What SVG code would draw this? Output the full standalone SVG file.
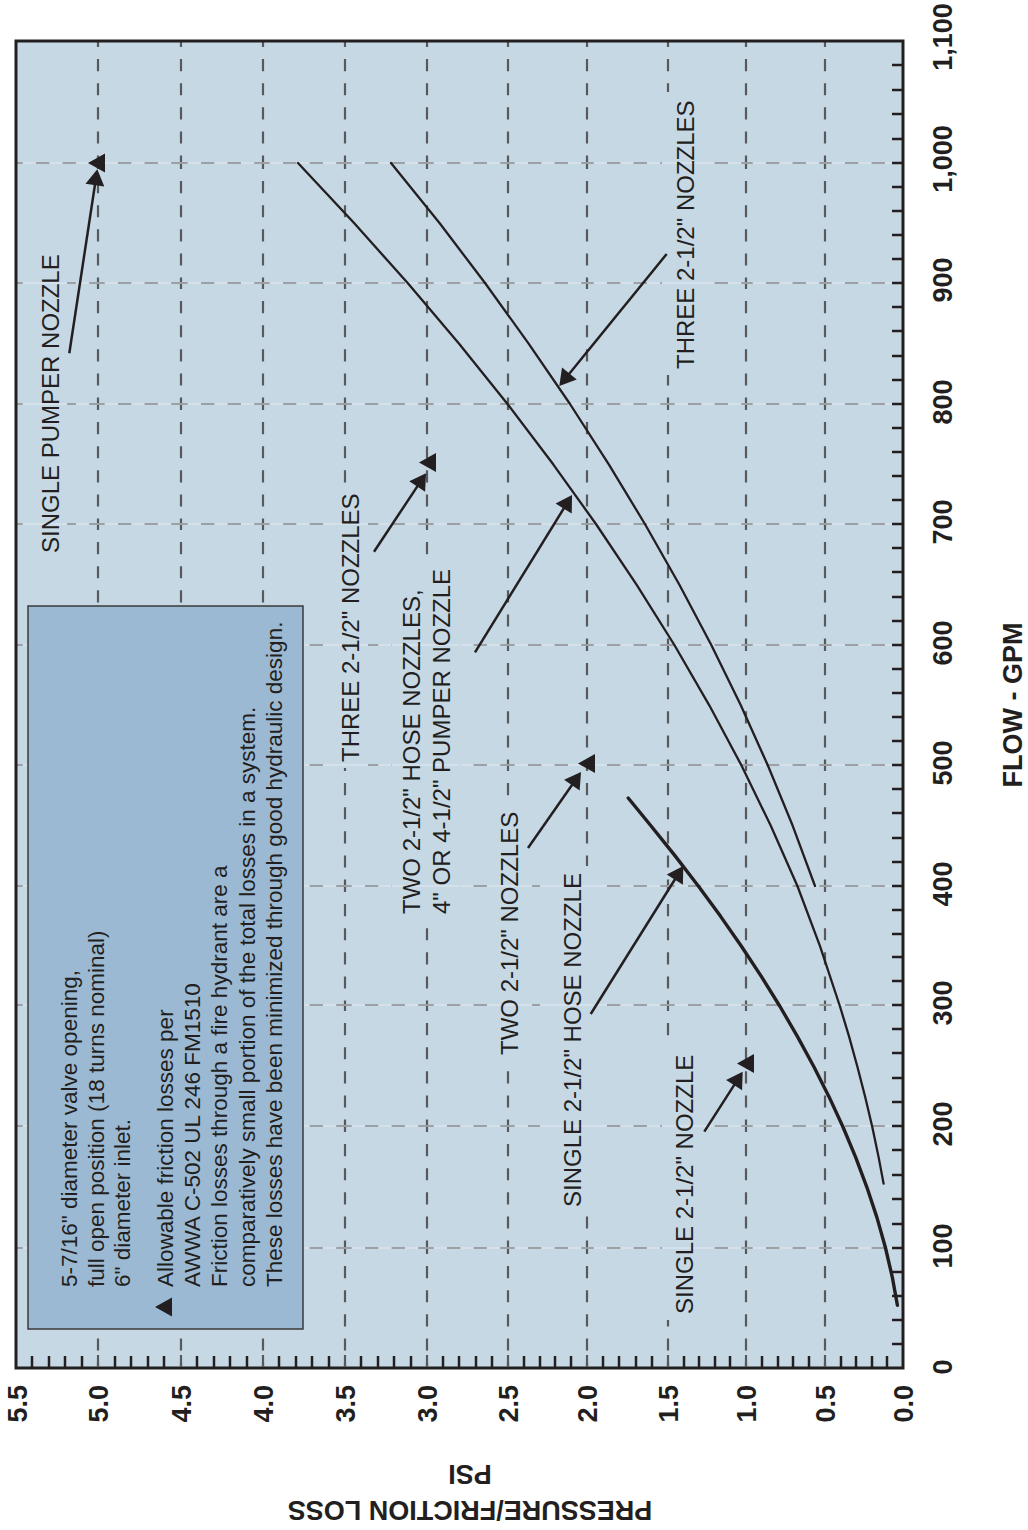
<svg xmlns="http://www.w3.org/2000/svg" width="1028" height="1530" viewBox="0 0 1028 1530">
<defs>
<style>
.t{font-family:"Liberation Sans",Arial,Helvetica,sans-serif;fill:#231f20}
.lab{font-size:24px}
.ax{font-size:27px;font-weight:bold}
.leg{font-size:22.5px}
.gv{fill:none;stroke:#58595b;stroke-width:2.2;stroke-dasharray:12.1 12;stroke-dashoffset:6}
.gh{fill:none;stroke:#58595b;stroke-width:2.2;stroke-dasharray:13.3 13.3;stroke-dashoffset:6.6}
.gl{fill:none;stroke:#e1e9f0;stroke-width:1}
.tick{fill:none;stroke:#231f20;stroke-width:2.5}
.gtick{fill:none;stroke:#58595b;stroke-width:2.2}
.curve{fill:none;stroke:#231f20;stroke-width:2.3;stroke-linejoin:round;stroke-linecap:round}
.thick{stroke-width:3.4}
.ko{fill:#c7d8e5}
.arrow{fill:none;stroke:#231f20;stroke-width:2.5;marker-end:url(#ah)}
.mk{fill:#231f20}
</style>
<marker id="ah" markerUnits="userSpaceOnUse" orient="auto" refX="6" refY="0" markerWidth="20" markerHeight="20" overflow="visible"><path d="M16,0 L0,-9.5 L0,9.5 Z" fill="#231f20"/></marker>
<path id="tri" d="M-9,0 L8,-9.5 L8,9.5 Z"/>
</defs>
<rect width="1028" height="1530" fill="#ffffff"/>
<g id="plot-bg"><rect x="16" y="41" width="887" height="1327" fill="#c7d8e5"/></g>
<g id="grid">
<path class="gv" d="M825,41V163M825,163V283M825,283V404M825,404V524M825,524V645M825,645V765M825,765V886M825,886V1005M825,1005V1126M825,1126V1248M825,1248V1368
M746,41V163M746,163V283M746,283V404M746,404V524M746,524V645M746,645V765M746,765V886M746,886V1005M746,1005V1126M746,1126V1248M746,1248V1368
M668,41V163M668,163V283M668,283V404M668,404V524M668,524V645M668,645V765M668,765V886M668,886V1005M668,1005V1126M668,1126V1248M668,1248V1368
M587,41V163M587,163V283M587,283V404M587,404V524M587,524V645M587,645V765M587,765V886M587,886V1005M587,1005V1126M587,1126V1248M587,1248V1368
M508,41V163M508,163V283M508,283V404M508,404V524M508,524V645M508,645V765M508,765V886M508,886V1005M508,1005V1126M508,1126V1248M508,1248V1368
M427,41V163M427,163V283M427,283V404M427,404V524M427,524V645M427,645V765M427,765V886M427,886V1005M427,1005V1126M427,1126V1248M427,1248V1368
M345,41V163M345,163V283M345,283V404M345,404V524M345,524V645M345,645V765M345,765V886M345,886V1005M345,1005V1126M345,1126V1248M345,1248V1368
M263,41V163M263,163V283M263,283V404M263,404V524M263,524V645M263,645V765M263,765V886M263,886V1005M263,1005V1126M263,1126V1248M263,1248V1368
M181,41V163M181,163V283M181,283V404M181,404V524M181,524V645M181,645V765M181,765V886M181,886V1005M181,1005V1126M181,1126V1248M181,1248V1368
M98,41V163M98,163V283M98,283V404M98,404V524M98,524V645M98,645V765M98,765V886M98,886V1005M98,1005V1126M98,1126V1248M98,1248V1368"/>
<path class="gh" d="M16,163H98M98,163H181M181,163H263M263,163H345M345,163H427M427,163H508M508,163H587M587,163H668M668,163H746M746,163H825M825,163H903
M16,283H98M98,283H181M181,283H263M263,283H345M345,283H427M427,283H508M508,283H587M587,283H668M668,283H746M746,283H825M825,283H903
M16,404H98M98,404H181M181,404H263M263,404H345M345,404H427M427,404H508M508,404H587M587,404H668M668,404H746M746,404H825M825,404H903
M16,524H98M98,524H181M181,524H263M263,524H345M345,524H427M427,524H508M508,524H587M587,524H668M668,524H746M746,524H825M825,524H903
M16,645H98M98,645H181M181,645H263M263,645H345M345,645H427M427,645H508M508,645H587M587,645H668M668,645H746M746,645H825M825,645H903
M16,765H98M98,765H181M181,765H263M263,765H345M345,765H427M427,765H508M508,765H587M587,765H668M668,765H746M746,765H825M825,765H903
M16,886H98M98,886H181M181,886H263M263,886H345M345,886H427M427,886H508M508,886H587M587,886H668M668,886H746M746,886H825M825,886H903
M16,1005H98M98,1005H181M181,1005H263M263,1005H345M345,1005H427M427,1005H508M508,1005H587M587,1005H668M668,1005H746M746,1005H825M825,1005H903
M16,1126H98M98,1126H181M181,1126H263M263,1126H345M345,1126H427M427,1126H508M508,1126H587M587,1126H668M668,1126H746M746,1126H825M825,1126H903
M16,1248H98M98,1248H181M181,1248H263M263,1248H345M345,1248H427M427,1248H508M508,1248H587M587,1248H668M668,1248H746M746,1248H825M825,1248H903"/>
<g id="label-knockouts">
<rect class="ko" x="32" y="250" width="35" height="310"/>
<rect class="ko" x="333" y="488" width="35" height="280"/>
<rect class="ko" x="392" y="562" width="68" height="358"/>
<rect class="ko" x="492" y="805" width="40" height="257"/>
<rect class="ko" x="540" y="866" width="57" height="348"/>
<rect class="ko" x="662" y="1047" width="48" height="273"/>
<rect class="ko" x="662" y="92" width="43" height="283"/>
</g>
<path class="gl" d="M17,163H902M17,283H902M17,404H902M17,524H902M17,645H902M17,765H902M17,886H902M17,1005H902M17,1126H902M17,1248H902"/>
</g>
<g id="legend">
<rect x="28" y="606" width="275" height="723" fill="#9bb9d3" stroke="#3a3a3a" stroke-width="1.5"/>
<use href="#tri" class="mk" transform="translate(164,1307)"/>
<text class="t leg" transform="translate(77,1287) rotate(-90)">5-7/16" diameter valve opening,</text>
<text class="t leg" transform="translate(103.5,1287) rotate(-90)">full open position (18 turns nominal)</text>
<text class="t leg" transform="translate(130,1287) rotate(-90)">6" diameter inlet.</text>
<text class="t leg" transform="translate(172.5,1287) rotate(-90)">Allowable friction losses per</text>
<text class="t leg" transform="translate(200,1287) rotate(-90)">AWWA C-502 UL 246 FM1510</text>
<text class="t leg" transform="translate(227,1287) rotate(-90)">Friction losses through a fire hydrant are a</text>
<text class="t leg" transform="translate(254.5,1287) rotate(-90)">comparatively small portion of the total losses in a system.</text>
<text class="t leg" transform="translate(282,1287) rotate(-90)">These losses have been minimized through good hydraulic design.</text>
</g>
<g id="curves">
<polyline id="curve-single-hose" class="curve thick" points="897.4,1305.3 892.4,1277.6 885.4,1247.5 876.9,1217.4 866.9,1187.3 855.6,1157.1 843.0,1127 829.1,1096.9 813.9,1066.8 797.5,1036.6 780.0,1006.5 761.3,976.4 741.4,946.3 720.4,916.1 698.3,886 675.1,855.9 650.9,825.8 628.2,798"/>
<polyline id="curve-two-hose" class="curve" points="883.6,1183.6 878.6,1157.1 872.3,1127 865.2,1096.9 857.4,1066.8 849.1,1036.6 840.0,1006.5 820.1,946.3 797.4,886 770.8,825.8 741.5,765.5 709.3,705.3 674.4,645 636.7,584.8 596.3,524.5 553.2,464.3 507.5,404 459.1,343.8 408.1,283.5 354.3,223.3 298,163"/>
<polyline id="curve-three" class="curve" points="815,886 792.7,825.8 767.9,765.5 740.8,705.3 711.3,645 679.4,584.8 645.2,524.5 608.8,464.3 570.0,404 528.8,343.8 485.4,283.5 439.7,223.3 391,163"/>
</g>
<g id="markers" class="mk">
<use href="#tri" transform="translate(97,163)"/>
<use href="#tri" transform="translate(428,462.5)"/>
<use href="#tri" transform="translate(587,763.5)"/>
<use href="#tri" transform="translate(746,1063.5)"/>
</g>
<g id="connectors">
<line class="arrow" x1="69.3" y1="353.3" x2="95.8" y2="179.2"/>
<line class="arrow" x1="374" y1="551.7" x2="420.5" y2="481.6"/>
<line class="arrow" x1="475" y1="652.3" x2="566.8" y2="503.5"/>
<line class="arrow" x1="528" y1="848" x2="575.3" y2="780.2"/>
<line class="arrow" x1="590.7" y1="1014" x2="678" y2="874.5"/>
<line class="arrow" x1="704.3" y1="1131.7" x2="737.3" y2="1080.1"/>
<line class="arrow" x1="666.7" y1="254" x2="565.6" y2="378.2"/>
</g>
<g id="labels">
<text id="lbl-single-pumper" class="t lab" transform="translate(59,553) rotate(-90)">SINGLE PUMPER NOZZLE</text>
<text id="lbl-three-left" class="t lab" transform="translate(359,762) rotate(-90)">THREE 2-1/2" NOZZLES</text>
<text id="lbl-two-hose" class="t lab" transform="translate(420,914) rotate(-90)">TWO 2-1/2" HOSE NOZZLES,</text>
<text id="lbl-pumper" class="t lab" transform="translate(450,914) rotate(-90)">4" OR 4-1/2" PUMPER NOZZLE</text>
<text id="lbl-two" class="t lab" transform="translate(518,1055) rotate(-90)">TWO 2-1/2" NOZZLES</text>
<text id="lbl-single-hose" class="t lab" transform="translate(581,1207) rotate(-90)">SINGLE 2-1/2" HOSE NOZZLE</text>
<text id="lbl-single" class="t lab" transform="translate(693,1314) rotate(-90)">SINGLE 2-1/2" NOZZLE</text>
<text id="lbl-three-right" class="t lab" transform="translate(694,369) rotate(-90)">THREE 2-1/2" NOZZLES</text>
</g>
<g id="axes">
<rect x="16" y="41" width="887" height="1327" fill="none" stroke="#231f20" stroke-width="3"/>
<path class="tick" d="M887,1356V1368M872,1356V1368M856,1356V1368M841,1356V1368M809,1356V1368M793,1356V1368M778,1356V1368M762,1356V1368M730,1356V1368M715,1356V1368M699,1356V1368M684,1356V1368M652,1356V1368M636,1356V1368M619,1356V1368M603,1356V1368M571,1356V1368M555,1356V1368M540,1356V1368M524,1356V1368M492,1356V1368M476,1356V1368M459,1356V1368M443,1356V1368M411,1356V1368M394,1356V1368M378,1356V1368M361,1356V1368M329,1356V1368M312,1356V1368M296,1356V1368M279,1356V1368M247,1356V1368M230,1356V1368M214,1356V1368M197,1356V1368M164,1356V1368M148,1356V1368M131,1356V1368M115,1356V1368M82,1356V1368M65,1356V1368M49,1356V1368M32,1356V1368"/>
<path class="gtick" d="M825,1355V1367M746,1355V1367M668,1355V1367M587,1355V1367M508,1355V1367M427,1355V1367M345,1355V1367M263,1355V1367M181,1355V1367M98,1355V1367"/>
<path class="tick" d="M892,1344H903M892,1320H903M892,1296H903M892,1272H903M892,1248H903M892,1224H903M892,1199H903M892,1175H903M892,1150H903M892,1126H903M892,1102H903M892,1078H903M892,1053H903M892,1029H903M892,1005H903M892,981H903M892,957H903M892,934H903M892,910H903M892,886H903M892,862H903M892,838H903M892,813H903M892,789H903M892,765H903M892,741H903M892,717H903M892,693H903M892,669H903M892,645H903M892,621H903M892,597H903M892,572H903M892,548H903M892,524H903M892,500H903M892,476H903M892,452H903M892,428H903M892,404H903M892,380H903M892,356H903M892,331H903M892,307H903M892,283H903M892,259H903M892,235H903M892,211H903M892,187H903M892,163H903M892,139H903M892,114H903M892,90H903M892,65H903"/>
<g id="psi-labels" class="t ax" text-anchor="end">
<text transform="translate(913,1385) rotate(-90)">0.0</text>
<text transform="translate(835,1385) rotate(-90)">0.5</text>
<text transform="translate(756,1385) rotate(-90)">1.0</text>
<text transform="translate(678,1385) rotate(-90)">1.5</text>
<text transform="translate(597,1385) rotate(-90)">2.0</text>
<text transform="translate(518,1385) rotate(-90)">2.5</text>
<text transform="translate(437,1385) rotate(-90)">3.0</text>
<text transform="translate(355,1385) rotate(-90)">3.5</text>
<text transform="translate(273,1385) rotate(-90)">4.0</text>
<text transform="translate(191,1385) rotate(-90)">4.5</text>
<text transform="translate(108,1385) rotate(-90)">5.0</text>
<text transform="translate(27,1385) rotate(-90)">5.5</text>
</g>
<g id="flow-labels" class="t ax" text-anchor="middle">
<text transform="translate(952,1367) rotate(-90)">0</text>
<text transform="translate(952,1246) rotate(-90)">100</text>
<text transform="translate(952,1124) rotate(-90)">200</text>
<text transform="translate(952,1003) rotate(-90)">300</text>
<text transform="translate(952,884) rotate(-90)">400</text>
<text transform="translate(952,763) rotate(-90)">500</text>
<text transform="translate(952,643) rotate(-90)">600</text>
<text transform="translate(952,522) rotate(-90)">700</text>
<text transform="translate(952,402) rotate(-90)">800</text>
<text transform="translate(952,280) rotate(-90)">900</text>
<text transform="translate(952,159) rotate(-90)">1,000</text>
<text transform="translate(952,37) rotate(-90)">1,100</text>
</g>
<text id="flow-title" class="t ax" text-anchor="middle" transform="translate(1022,705) rotate(-90)">FLOW - GPM</text>
<text id="psi-title" class="t ax" text-anchor="middle" x="470" y="1484.7" transform="rotate(180 470 1475)">PSI</text>
<text id="pressure-title" class="t ax" text-anchor="middle" x="470" y="1520.7" transform="rotate(180 470 1511)">PRESSURE/FRICTION LOSS</text>
</g>
</svg>
